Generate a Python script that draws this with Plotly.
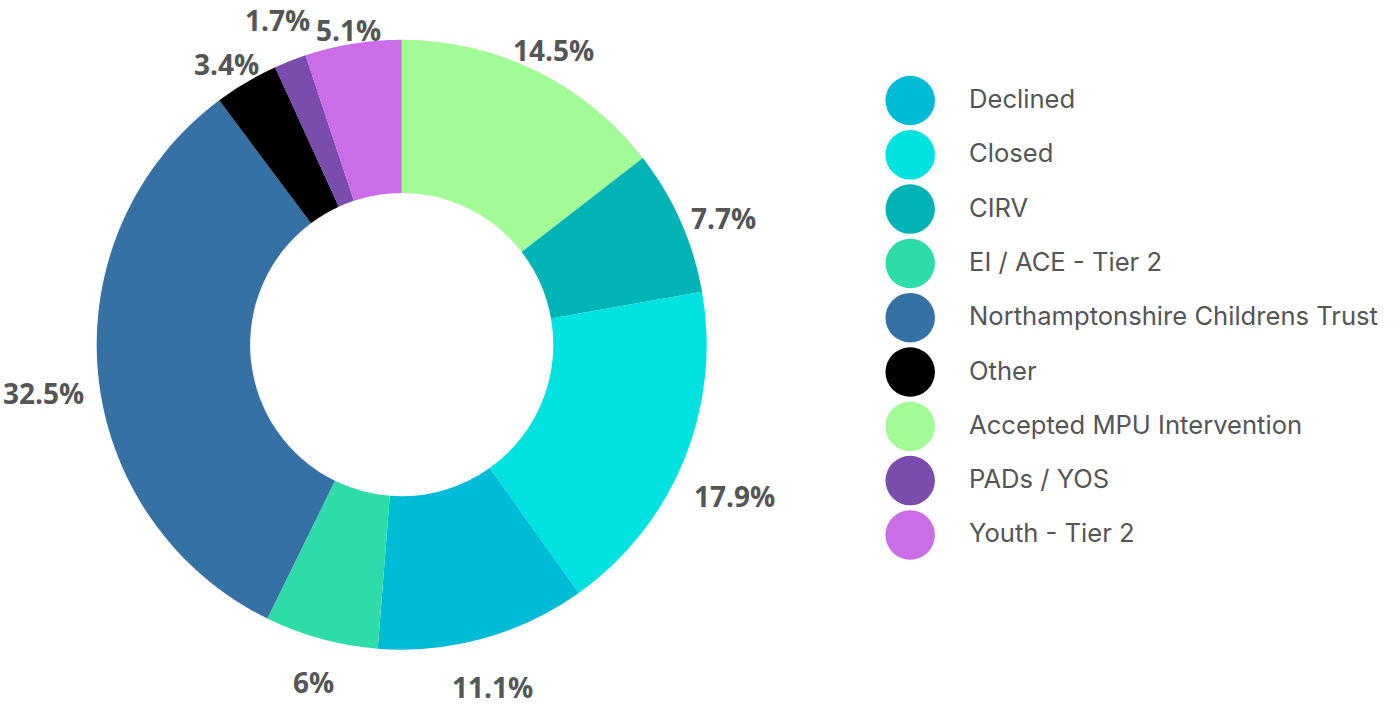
import math
import plotly.graph_objects as go

# ---------------- data ----------------
# Slice order (clockwise from 12 o'clock)
slice_labels = ["Accepted MPU Intervention", "CIRV", "Closed", "Declined", "EI / ACE - Tier 2",
                "Northamptonshire Childrens Trust", "Other", "PADs / YOS", "Youth - Tier 2"]
slice_values = [14.5, 7.7, 17.9, 11.1, 6, 32.5, 3.4, 1.7, 5.1]

# Legend order
legend_labels = ["Declined", "Closed", "CIRV", "EI / ACE - Tier 2", "Northamptonshire Childrens Trust",
                 "Other", "Accepted MPU Intervention", "PADs / YOS", "Youth - Tier 2"]

colors = {
    "Declined": "#00BBD5",
    "Closed": "#00E2E0",
    "CIRV": "#00B3B5",
    "EI / ACE - Tier 2": "#2EDCAA",
    "Northamptonshire Childrens Trust": "#3671A6",
    "Other": "#000000",
    "Accepted MPU Intervention": "#A2FB96",
    "PADs / YOS": "#794CAE",
    "Youth - Tier 2": "#CA6DE6",
}

# ---------------- layout constants ----------------
TEXT_GREY = "#555555"
W, H = 1396, 706

# pie geometry (pixels)
PIE_CX, PIE_CY, PIE_R = 401.7, 344.7, 305
HOLE = 0.497
cx, cy = PIE_CX, PIE_CY

LABEL_FS = 28
CHAR_EM = {d: 0.572 for d in "0123456789"}
CHAR_EM.update({".": 0.286, "%": 0.855})
LABEL_GAP = 14.5
LABEL_DROP = 15.5

# legend geometry (pixels)
LEG_X, LEG_Y0, LEG_DY = 910.2, 100.5, 54.3
LEG_TEXT_SHIFT = 56.3
LEG_FS = 25.6

fig = go.Figure()

slice_text = [f"{v:g}%" for v in slice_values]

fig.add_trace(go.Pie(
    labels=slice_labels,
    values=slice_values,
    textinfo="none",
    sort=False,
    direction="clockwise",
    rotation=0,
    hole=HOLE,
    marker=dict(colors=[colors[l] for l in slice_labels], line=dict(width=0)),
    domain=dict(x=[(cx - PIE_R) / W, (cx + PIE_R) / W],
                y=[(H - cy - PIE_R) / H, (H - cy + PIE_R) / H]),
    showlegend=False,
    hoverinfo="label+percent",
))

# outside percentage labels, positioned from the slice angles
total = sum(slice_values)
cum = 0.0
placed = []
for v, txt in zip(slice_values, slice_text):
    mid = (cum + v / 2) / total * 2 * math.pi
    cum += v
    ux, uy = math.sin(mid), -math.cos(mid)
    w = sum(CHAR_EM[c] for c in txt) * LABEL_FS - 2
    h = 0.714 * LABEL_FS
    d = PIE_R + LABEL_GAP + w / 2 * abs(ux) + h / 2 * abs(uy)
    bx, by = cx + d * ux, cy + d * uy + LABEL_DROP
    cw, ch = w + 6, h + 24
    step = -1 if uy < 0 else 1
    for _ in range(200):
        if any(abs(bx - px) < (cw + pw) / 2 and abs(by - py) < (ch + ph) / 2
               for px, py, pw, ph in placed):
            by += step
        else:
            break
    placed.append((bx, by, cw, ch))
    fig.add_annotation(
        x=bx / W, y=1 - by / H, xref="paper", yref="paper",
        text=txt, showarrow=False, xanchor="center", yanchor="middle",
        font=dict(family="Open Sans", size=LABEL_FS, color=TEXT_GREY, weight="bold"),
    )

# custom legend with large circles
legend_idx = list(range(len(legend_labels)))
fig.add_trace(go.Scatter(
    x=[0] * len(legend_labels),
    y=legend_idx,
    mode="markers",
    marker=dict(size=49.5, color=[colors[l] for l in legend_labels], line=dict(width=0)),
    showlegend=False,
    hoverinfo="skip",
    cliponaxis=False,
    xaxis="x", yaxis="y",
))

for i, lab in enumerate(legend_labels):
    fig.add_annotation(
        x=0, y=i, xref="x", yref="y", text=lab, showarrow=False,
        xanchor="left", yanchor="middle", xshift=LEG_TEXT_SHIFT, yshift=2,
        font=dict(family="Inter", size=LEG_FS, color=TEXT_GREY),
    )

x_dom0 = 0.6
fig.update_layout(
    width=W, height=H,
    margin=dict(l=0, r=0, t=0, b=0),
    paper_bgcolor="white", plot_bgcolor="white",
    xaxis=dict(domain=[x_dom0, 1.0], range=[-(LEG_X - x_dom0 * W), W - LEG_X],
               visible=False, fixedrange=True),
    yaxis=dict(domain=[0, 1], range=[(H - LEG_Y0) / LEG_DY, -LEG_Y0 / LEG_DY],
               visible=False, fixedrange=True),
    hovermode="closest",
)

# remove the default 8px page margin so the figure fills the window exactly
fig.write_html("out.html", config={"displayModeBar": False},
               post_script="document.body.style.margin='0';")
